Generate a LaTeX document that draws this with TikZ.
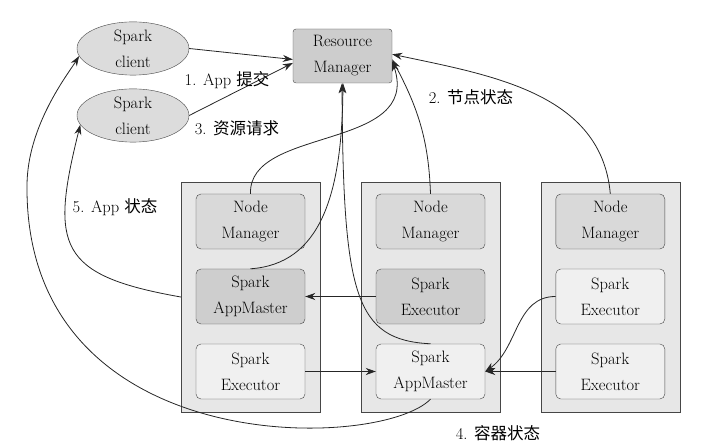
\documentclass[tikz,border=0pt]{standalone}
\usepackage{fontspec}
\newfontfamily\cjk{Noto Sans CJK SC}
\usepackage{tikz}
\usetikzlibrary{shapes.geometric, arrows.meta}
\definecolor{boxline}{RGB}{70,70,70}
\definecolor{rmgray}{RGB}{205,205,205}
\definecolor{clientgray}{RGB}{220,220,220}
\definecolor{colgray}{RGB}{231,231,231}
\definecolor{nmgray}{RGB}{217,217,217}
\definecolor{cdark}{RGB}{206,206,206}
\definecolor{clight}{RGB}{240,240,240}

\begin{document}
\begin{tikzpicture}[x=1pt, y=1pt,
  every node/.style={font=\rmfamily\fontsize{16.5}{26}\selectfont, align=center, inner sep=0pt, text=black},
  client/.style={ellipse, draw=boxline, fill=clientgray, minimum width=112pt, minimum height=49pt},
  rmbox/.style={rectangle, rounded corners=3pt, draw=boxline, fill=rmgray, minimum width=99pt, minimum height=54pt},
  colbox/.style={rectangle, draw=boxline, fill=colgray, minimum width=139pt, minimum height=230pt},
  inbox/.style={rectangle, rounded corners=5pt, draw=boxline, minimum width=109pt, minimum height=55pt},
  flow/.style={draw=black!85, line width=0.8pt, -{Stealth[length=10pt, width=7pt]}},
  lbl/.style={font=\rmfamily\fontsize{16.5}{20}\selectfont}]
  \useasboundingbox (0,0) rectangle (712,446);

  % Spark clients and Resource Manager
  \node[client] (client1) at (133,397.5) {Spark\\client};
  \node[client] (client2) at (133,330.5) {Spark\\client};
  \node[rmbox] (rm) at (342.5,390) {Resource\\Manager};

  % Worker columns, each with a Node Manager
  \foreach \i/\x in {1/250.5, 2/430.5, 3/610.3}{
    \node[colbox] (col\i) at (\x,149) {};
    \node[inbox, fill=nmgray] (nm\i) at (\x,224.5) {Node\\Manager};
  }

  % Containers
  \node[inbox, fill=cdark] (am1) at (250.5,149.5) {Spark\\AppMaster};
  \node[inbox, fill=clight] (ex1) at (250.5,74.5) {Spark\\Executor};
  \node[inbox, fill=cdark] (ex2) at (430.5,149.5) {Spark\\Executor};
  \node[inbox, fill=clight] (am2) at (430.5,74.5) {Spark\\AppMaster};
  \node[inbox, fill=clight] (ex3a) at (610.3,149.5) {Spark\\Executor};
  \node[inbox, fill=clight] (ex3b) at (610.3,74.5) {Spark\\Executor};

  % 1. App submit, 3. resource request
  \draw[flow] (client1.east) -- (rm.184);
  \draw[flow] (client2.east) -- (rm.188);

  % 2. node status
  \draw[flow] (nm3.north) to[out=95, in=-12] (rm.2);
  \draw[flow] (nm2.north) to[out=92, in=-62] (rm.-4);
  \draw[flow] (nm1.north) .. controls (248,320) and (422,295) .. (rm.-6);

  % AppMasters to Resource Manager
  \draw[flow] (am1.north) .. controls (320,182) and (342,250) .. (rm.-89);
  \draw[flow] (am2.north) .. controls (355,106) and (343,150) .. (rm.-91);

  % Executors to their AppMaster
  \draw[flow] (ex2.west) -- (am1.east);
  \draw[flow] (ex1.east) -- (am2.west);
  \draw[flow] (ex3b.west) -- (am2.east);
  \draw[flow] (ex3a.west) to[out=180, in=35] (am2.east);

  % 4. container status, 5. App status
  \draw[flow] (am2.south) .. controls (380,-5) and (25,-15) .. (27,260)
    .. controls (27,320) and (68,372) .. (client1.188);
  \draw[flow] (col1.west) to[out=170, in=256, looseness=1.6] (client2.190);

  % Labels
  \node[lbl] (l1) at (227,366) {1. App {\cjk 提交}};
  \node[lbl] (l3) at (237,318) {3. {\cjk 资源请求}};
  \node[lbl] (l2) at (471,349) {2. {\cjk 节点状态}};
  \node[lbl] (l5) at (115,239) {5. App {\cjk 状态}};
  \node[lbl] (l4) at (498,13) {4. {\cjk 容器状态}};
\end{tikzpicture}
\end{document}
